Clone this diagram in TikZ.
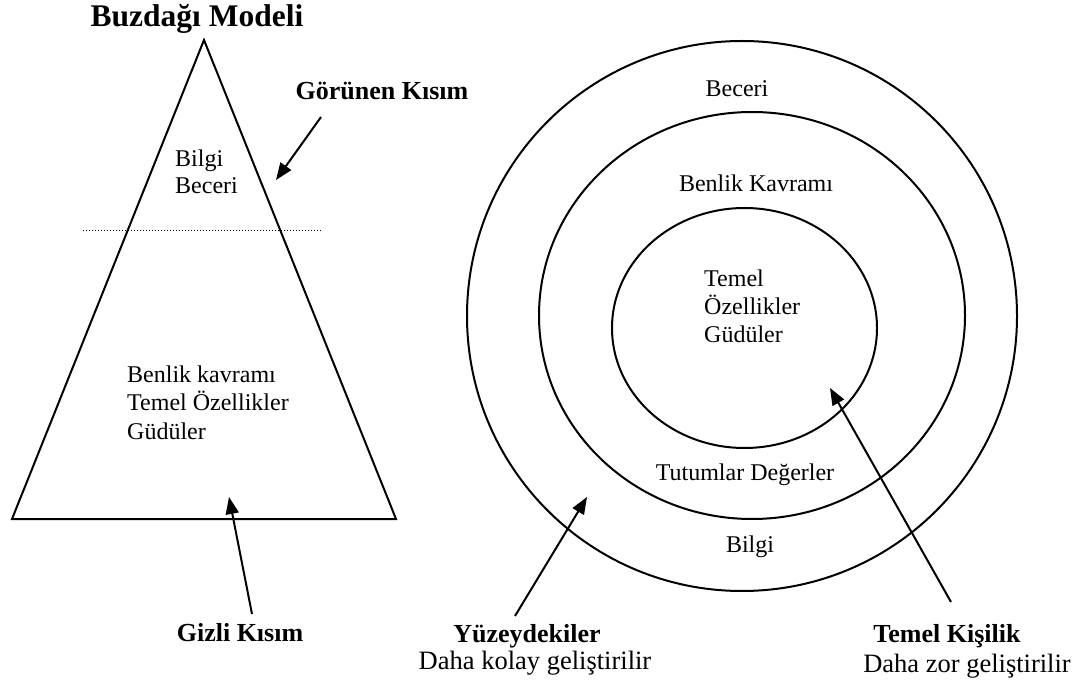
\documentclass[tikz,border=0pt]{standalone}
\usepackage{fontspec}
\setmainfont{Liberation Serif}
\usetikzlibrary{arrows.meta}
\begin{document}
\begin{tikzpicture}[x=1pt,y=-1pt,
  outline/.style={line width=2pt},
  pointer/.style={line width=2pt,-{Triangle[length=17pt,width=13pt]}},
  txt/.style={inner sep=0pt,font=\fontsize{24}{28}\selectfont},
  caption/.style={inner sep=0pt,font=\fontsize{26.5}{30}\selectfont},
  boldlabel/.style={inner sep=0pt,font=\fontsize{26}{30}\selectfont\bfseries},
  titletext/.style={inner sep=0pt,font=\fontsize{31.5}{36}\selectfont\bfseries},
]
\path[use as bounding box] (0,0) rectangle (1082,684);

% ---------- iceberg ----------
\node[titletext,anchor=base] (title) at (197,27) {Buzdağı Modeli};

\coordinate (apex) at (204,40);
\coordinate (baseL) at (12,519);
\coordinate (baseR) at (396,519);
\draw[outline,line join=miter] (apex) -- (baseR) -- (baseL) -- cycle;

% water line
\coordinate (waterL) at (83,231);
\coordinate (waterR) at (321,231);
\draw[line width=1pt,dash pattern=on 1pt off 2pt] (waterL) -- (waterR);

\node[txt,anchor=base west] (ibilgi) at (175,167) {Bilgi};
\node[txt,anchor=base west] (ibeceri) at (175,194) {Beceri};
\node[txt,anchor=base west] (ibenlik) at (127,383) {Benlik kavramı};
\node[txt,anchor=base west] (itemel) at (127,411) {Temel Özellikler};
\node[txt,anchor=base west] (igudu) at (127,439) {Güdüler};

\node[boldlabel,anchor=base] (visible) at (382,100) {Görünen Kısım};
\node[boldlabel,anchor=base] (hidden) at (240,641) {Gizli Kısım};

\coordinate (visTail) at (321,117);
\coordinate (visTip) at (276,180);
\draw[pointer] (visTail) -- (visTip);
\coordinate (hidTail) at (252,614);
\coordinate (hidTip) at (229,497);
\draw[pointer] (hidTail) -- (hidTip);

% ---------- onion model ----------
\coordinate (cOuter) at (742,316);
\coordinate (cMiddle) at (752,315.5);
\coordinate (cInner) at (744.5,328);
\draw[outline] (cOuter) circle[radius=275pt];
\draw[outline] (cMiddle) ellipse[x radius=213pt,y radius=203.5pt];
\draw[outline] (cInner) ellipse[x radius=132.5pt,y radius=120pt];

\node[txt,anchor=base] (obeceri) at (737,97) {Beceri};
\node[txt,anchor=base] (obenlik) at (756,192) {Benlik Kavramı};
\node[txt,anchor=base west] (otemel) at (704,287) {Temel};
\node[txt,anchor=base west] (oozel) at (704,315) {Özellikler};
\node[txt,anchor=base west] (ogudu) at (704,343) {Güdüler};
\node[txt,anchor=base] (otutum) at (745,481) {Tutumlar Değerler};
\node[txt,anchor=base] (obilgi) at (750,552) {Bilgi};

\node[boldlabel,anchor=base] (surface) at (527,642) {Yüzeydekiler};
\node[caption,anchor=base] (easy) at (535,669) {Daha kolay geliştirilir};
\node[boldlabel,anchor=base] (core) at (947,642) {Temel Kişilik};
\node[caption,anchor=base] (hard) at (967,672) {Daha zor geliştirilir};

\coordinate (surTail) at (515,616);
\coordinate (surTip) at (587,497);
\draw[pointer] (surTail) -- (surTip);
\coordinate (coreTail) at (951,602);
\coordinate (coreTip) at (830,388);
\draw[pointer] (coreTail) -- (coreTip);
\end{tikzpicture}
\end{document}
